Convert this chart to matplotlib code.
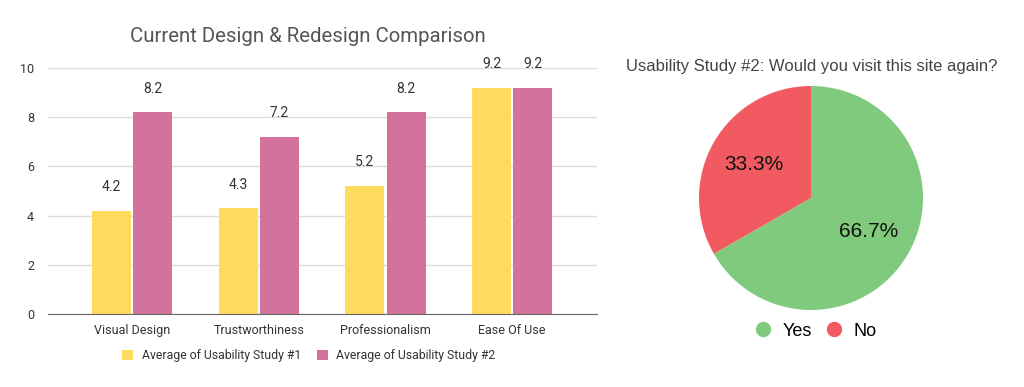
import numpy as np
import matplotlib
matplotlib.use('Agg')
import matplotlib.pyplot as plt
from matplotlib.lines import Line2D

plt.rcParams['font.family'] = ['Roboto', 'DejaVu Sans']

categories = ['Visual Design', 'Trustworthiness', 'Professionalism', 'Ease Of Use']
study1 = [4.2, 4.3, 5.2, 9.2]
study2 = [8.2, 7.2, 8.2, 9.2]
series_names = ['Average of Usability Study #1', 'Average of Usability Study #2']

pie_labels = ['Yes', 'No']
pie_values = [66.7, 33.3]

yellow = '#FFDA5C'
pink = '#D3729C'
green = '#80CA7D'
red = '#F25A62'

fig = plt.figure(figsize=(10.24, 3.87), dpi=100)

# bar chart
ax = fig.add_axes([48 / 1024, 1 - 314 / 387, 549 / 1024, 246 / 387])
x = np.arange(len(categories))
w = 0.31
b1 = ax.bar(x - w / 2 - 0.008, study1, w, color=yellow, label=series_names[0])
b2 = ax.bar(x + w / 2 + 0.008, study2, w, color=pink, label=series_names[1])
for bars, vals in [(b1, study1), (b2, study2)]:
    for b, v in zip(bars, vals):
        ax.annotate(f'{v:.1f}', (b.get_x() + b.get_width() / 2, v),
                    xytext=(0, 17), textcoords='offset points',
                    ha='center', va='center', fontsize=10, color='#333333')

ax.set_xlim(-0.665, 3.67)
ax.set_ylim(0, 10)
ax.set_yticks([0, 2, 4, 6, 8, 10])
ax.set_xticks(x)
ax.set_xticklabels(categories, fontsize=9, color='#333333')
ax.tick_params(axis='y', labelsize=9, colors='#333333', length=0, pad=10)
ax.tick_params(axis='x', length=0, pad=7)
ax.grid(axis='y', color='#dddddd', linewidth=1)
ax.set_axisbelow(True)
for s in ['top', 'right', 'left']:
    ax.spines[s].set_visible(False)
ax.spines['bottom'].set_color('#666666')
fig.text(308 / 1024, 1 - 36 / 387, 'Current Design & Redesign Comparison',
         ha='center', va='center', fontsize=14.7, color='#555555')
fig.legend(handles=[b1, b2], loc='center', bbox_to_anchor=(309 / 1024, 1 - 356 / 387),
           ncol=2, frameon=False, fontsize=8.8, handlelength=0.9, handleheight=0.9,
           columnspacing=1.3, handletextpad=0.7, labelcolor='#333333')

# pie chart
pie_font = ['Liberation Sans', 'DejaVu Sans']
pax = fig.add_axes([(811 - 112) / 1024, 1 - (198 + 112) / 387, 224 / 1024, 224 / 387])
wedges, _, autotexts = pax.pie(pie_values, colors=[green, red], startangle=90,
                               counterclock=False, autopct='%1.1f%%', pctdistance=0.59,
                               textprops={'fontsize': 15, 'color': '#111111',
                                          'family': pie_font})
pax.set_xlim(-1, 1)
pax.set_ylim(-1, 1)
pax.set_aspect('auto')
fig.text(812 / 1024, 1 - 67 / 387, 'Usability Study #2: Would you visit this site again?',
         ha='center', va='center', fontsize=12, color='#444444', family=pie_font)
handles = [Line2D([], [], marker='o', linestyle='', markersize=10, color=c) for c in [green, red]]
leg = fig.legend(handles, pie_labels, loc='center', bbox_to_anchor=(811 / 1024, 1 - 331 / 387),
                 ncol=2, frameon=False, handletextpad=0.1, columnspacing=0.2,
                 prop={'family': pie_font, 'size': 13})

fig.savefig('out.png', dpi=100)
